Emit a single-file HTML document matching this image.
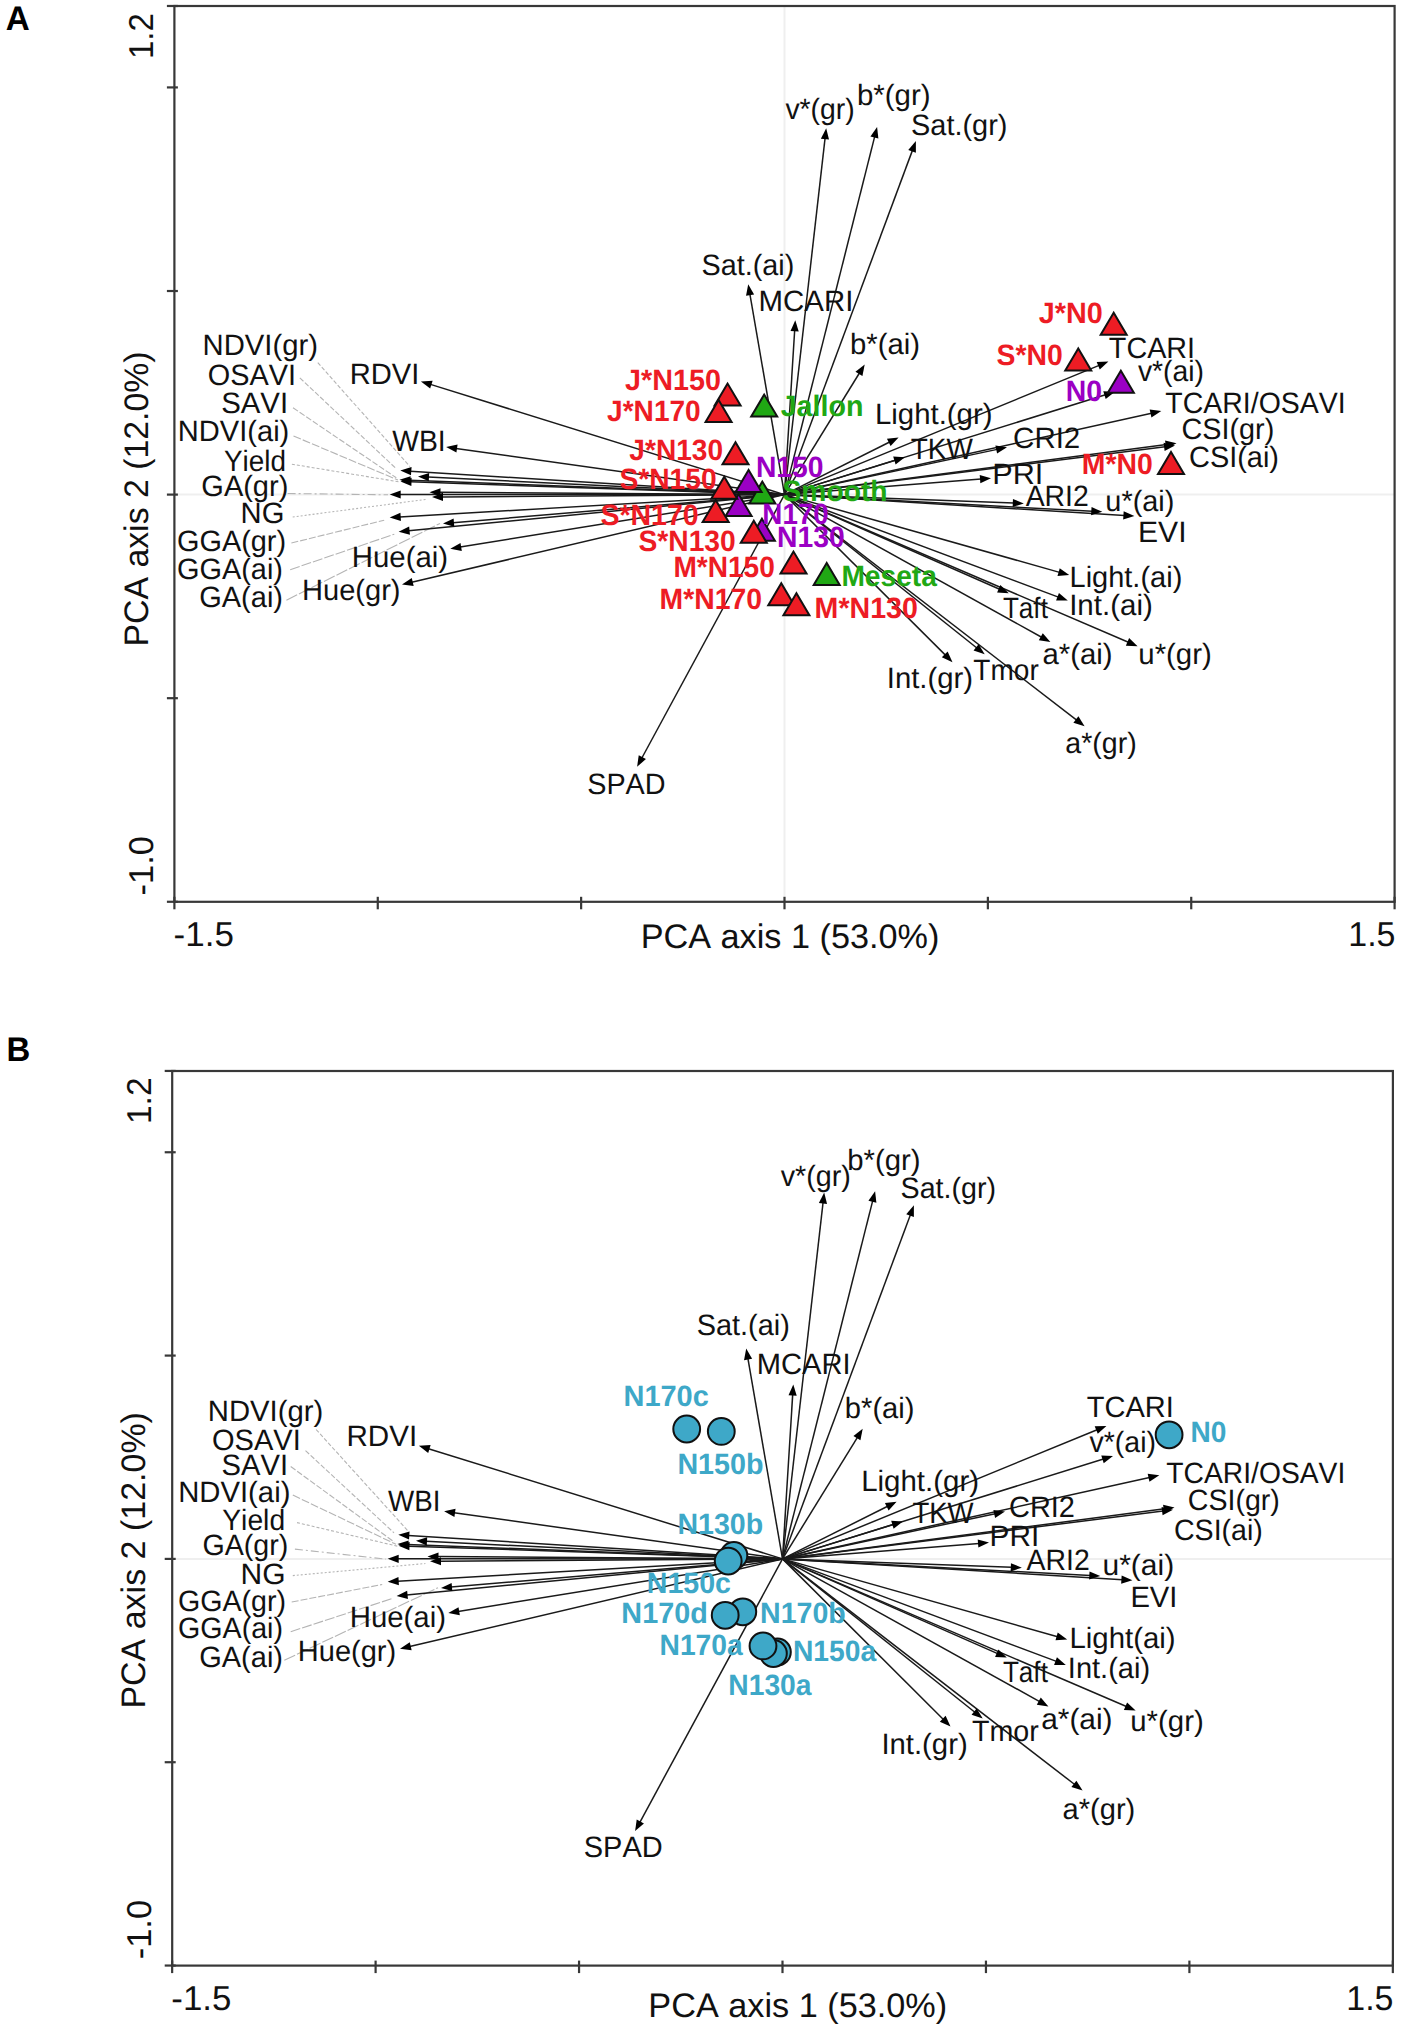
<!DOCTYPE html>
<html><head><meta charset="utf-8"><style>html,body{margin:0;padding:0;background:#fff;overflow:hidden}svg{display:block;font-kerning:none;text-rendering:geometricPrecision}</style></head><body>
<svg width="1417" height="2035" viewBox="0 0 1417 2035" font-family='"Liberation Sans", sans-serif' style="font-kerning:none">
<rect width="1417" height="2035" fill="#fff"/>
<text x="5.67" y="29.80" font-size="34" font-weight="bold" fill="#000" textLength="24.00" lengthAdjust="spacingAndGlyphs">A</text>
<g stroke="#efefef" stroke-width="2">
<line x1="174.4" y1="494.6" x2="1394.6" y2="494.6"/>
<line x1="784.5" y1="6.0" x2="784.5" y2="901.8"/>
</g>
<g stroke="#b4b4b4" stroke-width="1.1" fill="none">
<line x1="317.8" y1="362.6" x2="409.9" y2="466.5" stroke-dasharray="4,2"/>
<line x1="299.8" y1="377.8" x2="396.0" y2="468.5" stroke-dasharray="5,2"/>
<line x1="293.0" y1="407.8" x2="396.3" y2="477.8" stroke-dasharray="6,2"/>
<line x1="293.5" y1="436.0" x2="398.0" y2="480.0" stroke-dasharray="8,2"/>
<line x1="291.9" y1="464.2" x2="400.0" y2="482.0" stroke-dasharray="3,2"/>
<line x1="287.6" y1="493.5" x2="388.0" y2="494.8" stroke-dasharray="8,3,2,3"/>
<line x1="292.7" y1="517.0" x2="427.4" y2="499.2" stroke-dasharray="2,2"/>
<line x1="291.4" y1="543.0" x2="384.2" y2="520.2" stroke-dasharray="7,2"/>
<line x1="290.2" y1="569.7" x2="394.3" y2="534.2" stroke-dasharray="10,2"/>
<line x1="286.4" y1="600.2" x2="440.0" y2="523.4" stroke-dasharray="12,2"/>
</g>
<g stroke="#1a1a1a" stroke-width="1.5"><line x1="784.50" y1="494.60" x2="430.45" y2="384.37"/><line x1="784.50" y1="494.60" x2="456.00" y2="448.39"/><line x1="784.50" y1="494.60" x2="460.17" y2="547.10"/><line x1="784.50" y1="494.60" x2="411.73" y2="582.21"/><line x1="784.50" y1="494.60" x2="410.28" y2="471.13"/><line x1="784.50" y1="494.60" x2="409.49" y2="480.18"/><line x1="784.50" y1="494.60" x2="410.49" y2="481.84"/><line x1="784.50" y1="494.60" x2="427.99" y2="476.99"/><line x1="784.50" y1="494.60" x2="399.70" y2="494.50"/><line x1="784.50" y1="494.60" x2="439.50" y2="492.27"/><line x1="784.50" y1="494.60" x2="442.00" y2="496.93"/><line x1="784.50" y1="494.60" x2="399.68" y2="516.92"/><line x1="784.50" y1="494.60" x2="452.96" y2="522.75"/><line x1="784.50" y1="494.60" x2="408.55" y2="530.74"/><line x1="784.50" y1="494.60" x2="825.07" y2="138.14"/><line x1="784.50" y1="494.60" x2="874.66" y2="136.60"/><line x1="784.50" y1="494.60" x2="912.42" y2="150.37"/><line x1="784.50" y1="494.60" x2="749.90" y2="294.15"/><line x1="784.50" y1="494.60" x2="794.68" y2="330.28"/><line x1="784.50" y1="494.60" x2="859.45" y2="373.01"/><line x1="784.50" y1="494.60" x2="889.66" y2="441.98"/><line x1="784.50" y1="494.60" x2="895.35" y2="460.17"/><line x1="784.50" y1="494.60" x2="997.22" y2="449.38"/><line x1="784.50" y1="494.60" x2="981.03" y2="479.09"/><line x1="784.50" y1="494.60" x2="1099.15" y2="365.40"/><line x1="784.50" y1="494.60" x2="1105.45" y2="394.77"/><line x1="784.50" y1="494.60" x2="1151.54" y2="413.17"/><line x1="784.50" y1="494.60" x2="1166.58" y2="444.50"/><line x1="784.50" y1="494.60" x2="1165.08" y2="446.75"/><line x1="784.50" y1="494.60" x2="1013.81" y2="503.03"/><line x1="784.50" y1="494.60" x2="1092.31" y2="511.26"/><line x1="784.50" y1="494.60" x2="1124.42" y2="515.39"/><line x1="784.50" y1="494.60" x2="1059.58" y2="572.38"/><line x1="784.50" y1="494.60" x2="1058.43" y2="597.10"/><line x1="784.50" y1="494.60" x2="999.65" y2="589.27"/><line x1="784.50" y1="494.60" x2="1041.66" y2="637.25"/><line x1="784.50" y1="494.60" x2="1128.41" y2="642.25"/><line x1="784.50" y1="494.60" x2="945.42" y2="655.14"/><line x1="784.50" y1="494.60" x2="976.88" y2="647.97"/><line x1="784.50" y1="494.60" x2="1076.68" y2="720.19"/><line x1="784.50" y1="494.60" x2="641.86" y2="758.01"/></g>
<g fill="#000"><polygon points="420.90,381.40 432.62,380.76 430.18,388.58"/><polygon points="446.10,447.00 457.56,444.47 456.42,452.59"/><polygon points="450.30,548.70 460.50,542.89 461.81,550.99"/><polygon points="402.00,584.50 411.77,577.99 413.65,585.97"/><polygon points="400.30,470.50 411.54,467.10 411.02,475.28"/><polygon points="399.50,479.80 410.65,476.13 410.33,484.32"/><polygon points="400.50,481.50 411.63,477.78 411.35,485.97"/><polygon points="418.00,476.50 429.19,472.95 428.78,481.14"/><polygon points="389.70,494.50 400.70,490.40 400.70,498.60"/><polygon points="429.50,492.20 440.53,488.17 440.47,496.37"/><polygon points="432.00,497.00 442.97,492.83 443.03,501.03"/><polygon points="389.70,517.50 400.44,512.77 400.92,520.96"/><polygon points="443.00,523.60 453.61,518.58 454.31,526.75"/><polygon points="398.60,531.70 409.16,526.57 409.94,534.73"/><polygon points="826.20,128.20 829.03,139.59 820.88,138.67"/><polygon points="877.10,126.90 878.39,138.57 870.44,136.57"/><polygon points="915.90,141.00 915.91,152.74 908.23,149.88"/><polygon points="748.20,284.30 754.11,294.44 746.03,295.84"/><polygon points="795.30,320.30 798.71,331.53 790.53,331.03"/><polygon points="864.70,364.50 862.42,376.02 855.44,371.71"/><polygon points="898.60,437.50 890.60,446.09 886.93,438.76"/><polygon points="904.90,457.20 895.61,464.38 893.18,456.55"/><polygon points="1007.00,447.30 997.09,453.60 995.39,445.58"/><polygon points="991.00,478.30 980.36,483.25 979.71,475.08"/><polygon points="1108.40,361.60 1099.78,369.57 1096.67,361.99"/><polygon points="1115.00,391.80 1105.71,398.98 1103.28,391.15"/><polygon points="1161.30,411.00 1151.45,417.39 1149.67,409.38"/><polygon points="1176.50,443.20 1166.13,448.70 1165.06,440.56"/><polygon points="1175.00,445.50 1164.60,450.94 1163.57,442.80"/><polygon points="1023.80,503.40 1012.66,507.09 1012.96,498.90"/><polygon points="1102.30,511.80 1091.09,515.30 1091.54,507.11"/><polygon points="1134.40,516.00 1123.17,519.42 1123.67,511.24"/><polygon points="1069.20,575.10 1057.50,576.05 1059.73,568.16"/><polygon points="1067.80,600.60 1056.06,600.59 1058.93,592.91"/><polygon points="1008.80,593.30 997.08,592.62 1000.38,585.12"/><polygon points="1050.40,642.10 1038.79,640.35 1042.77,633.18"/><polygon points="1137.60,646.20 1125.87,645.63 1129.11,638.09"/><polygon points="952.50,662.20 941.82,657.33 947.61,651.53"/><polygon points="984.70,654.20 973.54,650.55 978.65,644.14"/><polygon points="1084.60,726.30 1073.39,722.82 1078.40,716.33"/><polygon points="637.10,766.80 638.73,755.17 645.94,759.08"/></g>
<polygon points="764.20,394.60 751.20,416.60 777.20,416.60" fill="#20a814" stroke="#111" stroke-width="2.0" stroke-linejoin="miter"/>
<polygon points="762.35,481.60 749.35,503.60 775.35,503.60" fill="#20a814" stroke="#111" stroke-width="2.0" stroke-linejoin="miter"/>
<polygon points="826.70,562.90 813.70,584.90 839.70,584.90" fill="#20a814" stroke="#111" stroke-width="2.0" stroke-linejoin="miter"/>
<polygon points="748.58,470.00 735.58,492.00 761.58,492.00" fill="#9b00c4" stroke="#111" stroke-width="2.0" stroke-linejoin="miter"/>
<polygon points="738.60,494.10 725.60,516.10 751.60,516.10" fill="#9b00c4" stroke="#111" stroke-width="2.0" stroke-linejoin="miter"/>
<polygon points="761.90,518.70 748.90,540.70 774.90,540.70" fill="#9b00c4" stroke="#111" stroke-width="2.0" stroke-linejoin="miter"/>
<polygon points="1120.85,370.70 1107.85,392.70 1133.85,392.70" fill="#9b00c4" stroke="#111" stroke-width="2.0" stroke-linejoin="miter"/>
<polygon points="727.60,383.60 714.60,405.60 740.60,405.60" fill="#ed1c24" stroke="#111" stroke-width="2.0" stroke-linejoin="miter"/>
<polygon points="718.58,399.90 705.58,421.90 731.58,421.90" fill="#ed1c24" stroke="#111" stroke-width="2.0" stroke-linejoin="miter"/>
<polygon points="735.50,442.20 722.50,464.20 748.50,464.20" fill="#ed1c24" stroke="#111" stroke-width="2.0" stroke-linejoin="miter"/>
<polygon points="724.25,476.70 711.25,498.70 737.25,498.70" fill="#ed1c24" stroke="#111" stroke-width="2.0" stroke-linejoin="miter"/>
<polygon points="715.67,500.00 702.67,522.00 728.67,522.00" fill="#ed1c24" stroke="#111" stroke-width="2.0" stroke-linejoin="miter"/>
<polygon points="753.78,520.80 740.78,542.80 766.78,542.80" fill="#ed1c24" stroke="#111" stroke-width="2.0" stroke-linejoin="miter"/>
<polygon points="793.52,551.60 780.52,573.60 806.52,573.60" fill="#ed1c24" stroke="#111" stroke-width="2.0" stroke-linejoin="miter"/>
<polygon points="781.27,583.30 768.27,605.30 794.27,605.30" fill="#ed1c24" stroke="#111" stroke-width="2.0" stroke-linejoin="miter"/>
<polygon points="796.42,593.20 783.42,615.20 809.42,615.20" fill="#ed1c24" stroke="#111" stroke-width="2.0" stroke-linejoin="miter"/>
<polygon points="1113.68,312.70 1100.68,334.70 1126.68,334.70" fill="#ed1c24" stroke="#111" stroke-width="2.0" stroke-linejoin="miter"/>
<polygon points="1078.25,348.50 1065.25,370.50 1091.25,370.50" fill="#ed1c24" stroke="#111" stroke-width="2.0" stroke-linejoin="miter"/>
<polygon points="1171.00,451.90 1158.00,473.90 1184.00,473.90" fill="#ed1c24" stroke="#111" stroke-width="2.0" stroke-linejoin="miter"/>
<g>
<text x="202.50" y="354.90" font-size="29.5" fill="#111" textLength="115.41" lengthAdjust="spacingAndGlyphs">NDVI(gr)</text>
<text x="207.83" y="384.60" font-size="29.5" fill="#111" textLength="88.23" lengthAdjust="spacingAndGlyphs">OSAVI</text>
<text x="221.17" y="413.20" font-size="29.5" fill="#111" textLength="66.95" lengthAdjust="spacingAndGlyphs">SAVI</text>
<text x="177.81" y="441.10" font-size="29.5" fill="#111" textLength="111.49" lengthAdjust="spacingAndGlyphs">NDVI(ai)</text>
<text x="223.99" y="470.80" font-size="29.5" fill="#111" textLength="62.11" lengthAdjust="spacingAndGlyphs">Yield</text>
<text x="201.34" y="495.70" font-size="29.5" fill="#111" textLength="86.96" lengthAdjust="spacingAndGlyphs">GA(gr)</text>
<text x="240.61" y="523.30" font-size="29.5" fill="#111" textLength="43.77" lengthAdjust="spacingAndGlyphs">NG</text>
<text x="177.05" y="550.80" font-size="29.5" fill="#111" textLength="109.04" lengthAdjust="spacingAndGlyphs">GGA(gr)</text>
<text x="177.05" y="579.40" font-size="29.5" fill="#111" textLength="105.94" lengthAdjust="spacingAndGlyphs">GGA(ai)</text>
<text x="199.24" y="606.90" font-size="29.5" fill="#111" textLength="83.76" lengthAdjust="spacingAndGlyphs">GA(ai)</text>
<text x="349.71" y="383.90" font-size="29.5" fill="#111" textLength="69.68" lengthAdjust="spacingAndGlyphs">RDVI</text>
<text x="392.18" y="450.80" font-size="29.5" fill="#111" textLength="53.54" lengthAdjust="spacingAndGlyphs">WBI</text>
<text x="351.79" y="566.70" font-size="29.5" fill="#111" textLength="96.33" lengthAdjust="spacingAndGlyphs">Hue(ai)</text>
<text x="302.02" y="599.50" font-size="29.5" fill="#111" textLength="98.49" lengthAdjust="spacingAndGlyphs">Hue(gr)</text>
<text x="785.40" y="118.90" font-size="29.5" fill="#111" textLength="69.36" lengthAdjust="spacingAndGlyphs">v*(gr)</text>
<text x="856.90" y="104.90" font-size="29.5" fill="#111" textLength="73.62" lengthAdjust="spacingAndGlyphs">b*(gr)</text>
<text x="911.09" y="135.20" font-size="29.5" fill="#111" textLength="96.30" lengthAdjust="spacingAndGlyphs">Sat.(gr)</text>
<text x="701.49" y="274.50" font-size="29.5" fill="#111" textLength="92.79" lengthAdjust="spacingAndGlyphs">Sat.(ai)</text>
<text x="758.59" y="311.00" font-size="29.5" fill="#111" textLength="94.83" lengthAdjust="spacingAndGlyphs">MCARI</text>
<text x="850.01" y="354.10" font-size="29.5" fill="#111" textLength="70.00" lengthAdjust="spacingAndGlyphs">b*(ai)</text>
<text x="874.99" y="423.70" font-size="29.5" fill="#111" textLength="117.53" lengthAdjust="spacingAndGlyphs">Light.(gr)</text>
<text x="910.67" y="458.70" font-size="29.5" fill="#111" textLength="62.12" lengthAdjust="spacingAndGlyphs">TKW</text>
<text x="1013.10" y="448.10" font-size="29.5" fill="#111" textLength="67.18" lengthAdjust="spacingAndGlyphs">CRI2</text>
<text x="992.29" y="483.90" font-size="29.5" fill="#111" textLength="51.04" lengthAdjust="spacingAndGlyphs">PRI</text>
<text x="1108.85" y="358.20" font-size="29.5" fill="#111" textLength="86.20" lengthAdjust="spacingAndGlyphs">TCARI</text>
<text x="1137.90" y="381.40" font-size="29.5" fill="#111" textLength="66.15" lengthAdjust="spacingAndGlyphs">v*(ai)</text>
<text x="1165.36" y="413.00" font-size="29.5" fill="#111" textLength="180.37" lengthAdjust="spacingAndGlyphs">TCARI/OSAVI</text>
<text x="1181.54" y="439.40" font-size="29.5" fill="#111" textLength="92.75" lengthAdjust="spacingAndGlyphs">CSI(gr)</text>
<text x="1189.03" y="466.70" font-size="29.5" fill="#111" textLength="89.96" lengthAdjust="spacingAndGlyphs">CSI(ai)</text>
<text x="1025.64" y="506.10" font-size="29.5" fill="#111" textLength="63.18" lengthAdjust="spacingAndGlyphs">ARI2</text>
<text x="1105.32" y="511.00" font-size="29.5" fill="#111" textLength="69.07" lengthAdjust="spacingAndGlyphs">u*(ai)</text>
<text x="1138.03" y="541.90" font-size="29.5" fill="#111" textLength="48.55" lengthAdjust="spacingAndGlyphs">EVI</text>
<text x="1069.52" y="587.20" font-size="29.5" fill="#111" textLength="112.78" lengthAdjust="spacingAndGlyphs">Light.(ai)</text>
<text x="1069.18" y="615.30" font-size="29.5" fill="#111" textLength="83.65" lengthAdjust="spacingAndGlyphs">Int.(ai)</text>
<text x="1002.91" y="618.00" font-size="29.5" fill="#111" textLength="44.98" lengthAdjust="spacingAndGlyphs">Taft</text>
<text x="1042.45" y="663.60" font-size="29.5" fill="#111" textLength="70.06" lengthAdjust="spacingAndGlyphs">a*(ai)</text>
<text x="1138.29" y="663.60" font-size="29.5" fill="#111" textLength="73.53" lengthAdjust="spacingAndGlyphs">u*(gr)</text>
<text x="886.79" y="687.70" font-size="29.5" fill="#111" textLength="86.32" lengthAdjust="spacingAndGlyphs">Int.(gr)</text>
<text x="973.37" y="679.70" font-size="29.5" fill="#111" textLength="65.39" lengthAdjust="spacingAndGlyphs">Tmor</text>
<text x="1065.29" y="753.40" font-size="29.5" fill="#111" textLength="71.38" lengthAdjust="spacingAndGlyphs">a*(gr)</text>
<text x="587.19" y="793.90" font-size="29.5" fill="#111" textLength="78.38" lengthAdjust="spacingAndGlyphs">SPAD</text>
</g>
<text x="625.07" y="389.60" font-size="29.5" font-weight="bold" fill="#ed1c24" textLength="95.81" lengthAdjust="spacingAndGlyphs">J*N150</text>
<text x="607.07" y="421.00" font-size="29.5" font-weight="bold" fill="#ed1c24" textLength="93.68" lengthAdjust="spacingAndGlyphs">J*N170</text>
<text x="629.37" y="459.50" font-size="29.5" font-weight="bold" fill="#ed1c24" textLength="93.68" lengthAdjust="spacingAndGlyphs">J*N130</text>
<text x="619.39" y="488.90" font-size="29.5" font-weight="bold" fill="#ed1c24" textLength="97.27" lengthAdjust="spacingAndGlyphs">S*N150</text>
<text x="600.38" y="524.70" font-size="29.5" font-weight="bold" fill="#ed1c24" textLength="98.29" lengthAdjust="spacingAndGlyphs">S*N170</text>
<text x="638.49" y="551.00" font-size="29.5" font-weight="bold" fill="#ed1c24" textLength="97.27" lengthAdjust="spacingAndGlyphs">S*N130</text>
<text x="673.42" y="577.00" font-size="29.5" font-weight="bold" fill="#ed1c24" textLength="101.43" lengthAdjust="spacingAndGlyphs">M*N150</text>
<text x="659.60" y="608.80" font-size="29.5" font-weight="bold" fill="#ed1c24" textLength="102.56" lengthAdjust="spacingAndGlyphs">M*N170</text>
<text x="814.59" y="618.30" font-size="29.5" font-weight="bold" fill="#ed1c24" textLength="103.29" lengthAdjust="spacingAndGlyphs">M*N130</text>
<text x="1038.86" y="323.10" font-size="29.5" font-weight="bold" fill="#ed1c24" textLength="64.02" lengthAdjust="spacingAndGlyphs">J*N0</text>
<text x="996.48" y="365.30" font-size="29.5" font-weight="bold" fill="#ed1c24" textLength="66.18" lengthAdjust="spacingAndGlyphs">S*N0</text>
<text x="1081.80" y="474.00" font-size="29.5" font-weight="bold" fill="#ed1c24" textLength="70.96" lengthAdjust="spacingAndGlyphs">M*N0</text>
<text x="1065.80" y="401.10" font-size="29.5" font-weight="bold" fill="#9b00c4" textLength="36.37" lengthAdjust="spacingAndGlyphs">N0</text>
<text x="755.91" y="476.60" font-size="29.5" font-weight="bold" fill="#9b00c4" textLength="67.65" lengthAdjust="spacingAndGlyphs">N150</text>
<text x="762.34" y="524.20" font-size="29.5" font-weight="bold" fill="#9b00c4" textLength="66.50" lengthAdjust="spacingAndGlyphs">N170</text>
<text x="777.11" y="546.50" font-size="29.5" font-weight="bold" fill="#9b00c4" textLength="67.65" lengthAdjust="spacingAndGlyphs">N130</text>
<text x="780.67" y="415.50" font-size="29.5" font-weight="bold" fill="#20a814" textLength="82.71" lengthAdjust="spacingAndGlyphs">Jallon</text>
<text x="782.39" y="501.30" font-size="29.5" font-weight="bold" fill="#20a814" textLength="105.27" lengthAdjust="spacingAndGlyphs">Smooth</text>
<text x="841.42" y="585.90" font-size="29.5" font-weight="bold" fill="#20a814" textLength="95.51" lengthAdjust="spacingAndGlyphs">Meseta</text>
<rect x="174.4" y="6.0" width="1220.1999999999998" height="895.8" fill="none" stroke="#383838" stroke-width="2.2"/>
<g stroke="#383838" stroke-width="2.2">
<line x1="166.90" y1="5.98" x2="177.90" y2="5.98"/>
<line x1="166.90" y1="87.42" x2="177.90" y2="87.42"/>
<line x1="166.90" y1="291.01" x2="177.90" y2="291.01"/>
<line x1="166.90" y1="494.60" x2="177.90" y2="494.60"/>
<line x1="166.90" y1="698.19" x2="177.90" y2="698.19"/>
<line x1="166.90" y1="901.78" x2="177.90" y2="901.78"/>
<line x1="174.40" y1="896.80" x2="174.40" y2="909.30"/>
<line x1="377.77" y1="896.80" x2="377.77" y2="909.30"/>
<line x1="581.13" y1="896.80" x2="581.13" y2="909.30"/>
<line x1="784.50" y1="896.80" x2="784.50" y2="909.30"/>
<line x1="987.87" y1="896.80" x2="987.87" y2="909.30"/>
<line x1="1191.23" y1="896.80" x2="1191.23" y2="909.30"/>
<line x1="1394.60" y1="896.80" x2="1394.60" y2="909.30"/>
</g>
<text x="173.54" y="946.10" font-size="34.5" fill="#111" textLength="60.33" lengthAdjust="spacingAndGlyphs">-1.5</text>
<text x="1348.31" y="946.10" font-size="34.5" fill="#111" textLength="47.21" lengthAdjust="spacingAndGlyphs">1.5</text>
<text x="640.69" y="948.40" font-size="34" fill="#111" textLength="298.63" lengthAdjust="spacingAndGlyphs">PCA axis 1 (53.0%)</text>
<g transform="translate(153.00,56.50) rotate(-90)"><text x="-2.51" y="0.00" font-size="34.5" fill="#111" textLength="45.87" lengthAdjust="spacingAndGlyphs">1.2</text></g>
<g transform="translate(153.30,894.00) rotate(-90)"><text x="-1.53" y="0.00" font-size="34.5" fill="#111">-1.0</text></g>
<g transform="translate(148.10,643.80) rotate(-90)"><text x="-2.77" y="0.00" font-size="34" fill="#111" textLength="295.17" lengthAdjust="spacingAndGlyphs">PCA axis 2 (12.0%)</text></g>
<text x="6.60" y="1061.10" font-size="34" font-weight="bold" fill="#000" textLength="23.80" lengthAdjust="spacingAndGlyphs">B</text>
<g stroke="#efefef" stroke-width="2">
<line x1="172.2" y1="1558.9" x2="1392.9" y2="1558.9"/>
</g>
<g stroke="#b4b4b4" stroke-width="1.1" fill="none">
<line x1="316.1" y1="1429.5" x2="407.9" y2="1530.8" stroke-dasharray="4,2"/>
<line x1="305.5" y1="1450.6" x2="394.0" y2="1532.8" stroke-dasharray="5,2"/>
<line x1="290.7" y1="1466.5" x2="394.3" y2="1542.1" stroke-dasharray="6,2"/>
<line x1="292.8" y1="1495.1" x2="396.0" y2="1544.3" stroke-dasharray="8,2"/>
<line x1="297.0" y1="1522.6" x2="398.0" y2="1546.3" stroke-dasharray="3,2"/>
<line x1="294.9" y1="1549.1" x2="386.0" y2="1559.1" stroke-dasharray="8,3,2,3"/>
<line x1="292.8" y1="1575.6" x2="425.4" y2="1563.5" stroke-dasharray="2,2"/>
<line x1="291.7" y1="1602.0" x2="382.2" y2="1584.5" stroke-dasharray="7,2"/>
<line x1="290.7" y1="1631.7" x2="392.3" y2="1598.5" stroke-dasharray="10,2"/>
<line x1="284.3" y1="1660.3" x2="438.0" y2="1587.6999999999998" stroke-dasharray="12,2"/>
</g>
<g stroke="#1a1a1a" stroke-width="1.5"><line x1="782.50" y1="1558.90" x2="428.45" y2="1448.67"/><line x1="782.50" y1="1558.90" x2="454.00" y2="1512.69"/><line x1="782.50" y1="1558.90" x2="458.17" y2="1611.40"/><line x1="782.50" y1="1558.90" x2="409.73" y2="1646.51"/><line x1="782.50" y1="1558.90" x2="408.28" y2="1535.43"/><line x1="782.50" y1="1558.90" x2="407.49" y2="1544.48"/><line x1="782.50" y1="1558.90" x2="408.49" y2="1546.14"/><line x1="782.50" y1="1558.90" x2="425.99" y2="1541.29"/><line x1="782.50" y1="1558.90" x2="397.70" y2="1558.80"/><line x1="782.50" y1="1558.90" x2="437.50" y2="1556.57"/><line x1="782.50" y1="1558.90" x2="440.00" y2="1561.23"/><line x1="782.50" y1="1558.90" x2="397.68" y2="1581.22"/><line x1="782.50" y1="1558.90" x2="450.96" y2="1587.05"/><line x1="782.50" y1="1558.90" x2="406.55" y2="1595.04"/><line x1="782.50" y1="1558.90" x2="823.07" y2="1202.44"/><line x1="782.50" y1="1558.90" x2="872.66" y2="1200.90"/><line x1="782.50" y1="1558.90" x2="910.42" y2="1214.67"/><line x1="782.50" y1="1558.90" x2="747.90" y2="1358.45"/><line x1="782.50" y1="1558.90" x2="792.68" y2="1394.58"/><line x1="782.50" y1="1558.90" x2="857.45" y2="1437.31"/><line x1="782.50" y1="1558.90" x2="887.66" y2="1506.28"/><line x1="782.50" y1="1558.90" x2="893.35" y2="1524.47"/><line x1="782.50" y1="1558.90" x2="995.22" y2="1513.68"/><line x1="782.50" y1="1558.90" x2="979.03" y2="1543.39"/><line x1="782.50" y1="1558.90" x2="1097.15" y2="1429.70"/><line x1="782.50" y1="1558.90" x2="1103.45" y2="1459.07"/><line x1="782.50" y1="1558.90" x2="1149.54" y2="1477.47"/><line x1="782.50" y1="1558.90" x2="1164.58" y2="1508.80"/><line x1="782.50" y1="1558.90" x2="1163.08" y2="1511.05"/><line x1="782.50" y1="1558.90" x2="1011.81" y2="1567.33"/><line x1="782.50" y1="1558.90" x2="1090.31" y2="1575.56"/><line x1="782.50" y1="1558.90" x2="1122.42" y2="1579.69"/><line x1="782.50" y1="1558.90" x2="1057.58" y2="1636.68"/><line x1="782.50" y1="1558.90" x2="1056.43" y2="1661.40"/><line x1="782.50" y1="1558.90" x2="997.65" y2="1653.57"/><line x1="782.50" y1="1558.90" x2="1039.66" y2="1701.55"/><line x1="782.50" y1="1558.90" x2="1126.41" y2="1706.55"/><line x1="782.50" y1="1558.90" x2="943.42" y2="1719.44"/><line x1="782.50" y1="1558.90" x2="974.88" y2="1712.27"/><line x1="782.50" y1="1558.90" x2="1074.68" y2="1784.49"/><line x1="782.50" y1="1558.90" x2="639.86" y2="1822.31"/></g>
<g fill="#000"><polygon points="418.90,1445.70 430.62,1445.06 428.18,1452.88"/><polygon points="444.10,1511.30 455.56,1508.77 454.42,1516.89"/><polygon points="448.30,1613.00 458.50,1607.19 459.81,1615.29"/><polygon points="400.00,1648.80 409.77,1642.29 411.65,1650.27"/><polygon points="398.30,1534.80 409.54,1531.40 409.02,1539.58"/><polygon points="397.50,1544.10 408.65,1540.43 408.33,1548.62"/><polygon points="398.50,1545.80 409.63,1542.08 409.35,1550.27"/><polygon points="416.00,1540.80 427.19,1537.25 426.78,1545.44"/><polygon points="387.70,1558.80 398.70,1554.70 398.70,1562.90"/><polygon points="427.50,1556.50 438.53,1552.47 438.47,1560.67"/><polygon points="430.00,1561.30 440.97,1557.13 441.03,1565.33"/><polygon points="387.70,1581.80 398.44,1577.07 398.92,1585.26"/><polygon points="441.00,1587.90 451.61,1582.88 452.31,1591.05"/><polygon points="396.60,1596.00 407.16,1590.87 407.94,1599.03"/><polygon points="824.20,1192.50 827.03,1203.89 818.88,1202.97"/><polygon points="875.10,1191.20 876.39,1202.87 868.44,1200.87"/><polygon points="913.90,1205.30 913.91,1217.04 906.23,1214.18"/><polygon points="746.20,1348.60 752.11,1358.74 744.03,1360.14"/><polygon points="793.30,1384.60 796.71,1395.83 788.53,1395.33"/><polygon points="862.70,1428.80 860.42,1440.32 853.44,1436.01"/><polygon points="896.60,1501.80 888.60,1510.39 884.93,1503.06"/><polygon points="902.90,1521.50 893.61,1528.68 891.18,1520.85"/><polygon points="1005.00,1511.60 995.09,1517.90 993.39,1509.88"/><polygon points="989.00,1542.60 978.36,1547.55 977.71,1539.38"/><polygon points="1106.40,1425.90 1097.78,1433.87 1094.67,1426.29"/><polygon points="1113.00,1456.10 1103.71,1463.28 1101.28,1455.45"/><polygon points="1159.30,1475.30 1149.45,1481.69 1147.67,1473.68"/><polygon points="1174.50,1507.50 1164.13,1513.00 1163.06,1504.86"/><polygon points="1173.00,1509.80 1162.60,1515.24 1161.57,1507.10"/><polygon points="1021.80,1567.70 1010.66,1571.39 1010.96,1563.20"/><polygon points="1100.30,1576.10 1089.09,1579.60 1089.54,1571.41"/><polygon points="1132.40,1580.30 1121.17,1583.72 1121.67,1575.54"/><polygon points="1067.20,1639.40 1055.50,1640.35 1057.73,1632.46"/><polygon points="1065.80,1664.90 1054.06,1664.89 1056.93,1657.21"/><polygon points="1006.80,1657.60 995.08,1656.92 998.38,1649.42"/><polygon points="1048.40,1706.40 1036.79,1704.65 1040.77,1697.48"/><polygon points="1135.60,1710.50 1123.87,1709.93 1127.11,1702.39"/><polygon points="950.50,1726.50 939.82,1721.63 945.61,1715.83"/><polygon points="982.70,1718.50 971.54,1714.85 976.65,1708.44"/><polygon points="1082.60,1790.60 1071.39,1787.12 1076.40,1780.63"/><polygon points="635.10,1831.10 636.73,1819.47 643.94,1823.38"/></g>
<circle cx="686.70" cy="1429.00" r="13.40" fill="#3ea8c8" stroke="#111" stroke-width="2.0"/>
<circle cx="721.30" cy="1431.40" r="13.40" fill="#3ea8c8" stroke="#111" stroke-width="2.0"/>
<circle cx="733.90" cy="1555.50" r="13.40" fill="#3ea8c8" stroke="#111" stroke-width="2.0"/>
<circle cx="728.20" cy="1561.10" r="13.40" fill="#3ea8c8" stroke="#111" stroke-width="2.0"/>
<circle cx="742.80" cy="1611.80" r="13.40" fill="#3ea8c8" stroke="#111" stroke-width="2.0"/>
<circle cx="725.20" cy="1615.30" r="13.40" fill="#3ea8c8" stroke="#111" stroke-width="2.0"/>
<circle cx="777.40" cy="1652.00" r="13.40" fill="#3ea8c8" stroke="#111" stroke-width="2.0"/>
<circle cx="773.40" cy="1653.50" r="13.40" fill="#3ea8c8" stroke="#111" stroke-width="2.0"/>
<circle cx="763.00" cy="1645.90" r="13.40" fill="#3ea8c8" stroke="#111" stroke-width="2.0"/>
<circle cx="1169.10" cy="1434.80" r="13.40" fill="#3ea8c8" stroke="#111" stroke-width="2.0"/>
<g>
<text x="207.80" y="1421.00" font-size="29.5" fill="#111" textLength="115.41" lengthAdjust="spacingAndGlyphs">NDVI(gr)</text>
<text x="212.02" y="1449.60" font-size="29.5" fill="#111" textLength="88.75" lengthAdjust="spacingAndGlyphs">OSAVI</text>
<text x="221.57" y="1475.00" font-size="29.5" fill="#111" textLength="66.52" lengthAdjust="spacingAndGlyphs">SAVI</text>
<text x="178.20" y="1501.50" font-size="29.5" fill="#111" textLength="112.22" lengthAdjust="spacingAndGlyphs">NDVI(ai)</text>
<text x="222.28" y="1530.00" font-size="29.5" fill="#111" textLength="62.84" lengthAdjust="spacingAndGlyphs">Yield</text>
<text x="202.46" y="1555.40" font-size="29.5" fill="#111" textLength="85.81" lengthAdjust="spacingAndGlyphs">GA(gr)</text>
<text x="240.54" y="1584.00" font-size="29.5" fill="#111" textLength="45.00" lengthAdjust="spacingAndGlyphs">NG</text>
<text x="178.06" y="1610.50" font-size="29.5" fill="#111" textLength="108.01" lengthAdjust="spacingAndGlyphs">GGA(gr)</text>
<text x="178.06" y="1638.00" font-size="29.5" fill="#111" textLength="104.91" lengthAdjust="spacingAndGlyphs">GGA(ai)</text>
<text x="199.24" y="1666.60" font-size="29.5" fill="#111" textLength="83.76" lengthAdjust="spacingAndGlyphs">GA(ai)</text>
<text x="346.47" y="1446.40" font-size="29.5" fill="#111" textLength="70.76" lengthAdjust="spacingAndGlyphs">RDVI</text>
<text x="387.98" y="1511.00" font-size="29.5" fill="#111" textLength="52.38" lengthAdjust="spacingAndGlyphs">WBI</text>
<text x="349.69" y="1627.40" font-size="29.5" fill="#111" textLength="96.33" lengthAdjust="spacingAndGlyphs">Hue(ai)</text>
<text x="297.82" y="1661.30" font-size="29.5" fill="#111" textLength="98.38" lengthAdjust="spacingAndGlyphs">Hue(gr)</text>
<text x="780.70" y="1186.40" font-size="29.5" fill="#111" textLength="70.18" lengthAdjust="spacingAndGlyphs">v*(gr)</text>
<text x="847.21" y="1169.60" font-size="29.5" fill="#111" textLength="73.31" lengthAdjust="spacingAndGlyphs">b*(gr)</text>
<text x="900.60" y="1198.40" font-size="29.5" fill="#111" textLength="95.48" lengthAdjust="spacingAndGlyphs">Sat.(gr)</text>
<text x="696.69" y="1335.10" font-size="29.5" fill="#111" textLength="93.10" lengthAdjust="spacingAndGlyphs">Sat.(ai)</text>
<text x="756.81" y="1373.50" font-size="29.5" fill="#111" textLength="93.88" lengthAdjust="spacingAndGlyphs">MCARI</text>
<text x="844.82" y="1417.90" font-size="29.5" fill="#111" textLength="69.69" lengthAdjust="spacingAndGlyphs">b*(ai)</text>
<text x="1086.85" y="1417.10" font-size="29.5" fill="#111" textLength="87.03" lengthAdjust="spacingAndGlyphs">TCARI</text>
<text x="1089.50" y="1452.00" font-size="29.5" fill="#111" textLength="66.46" lengthAdjust="spacingAndGlyphs">v*(ai)</text>
<text x="1166.27" y="1482.70" font-size="29.5" fill="#111" textLength="179.04" lengthAdjust="spacingAndGlyphs">TCARI/OSAVI</text>
<text x="1187.75" y="1510.20" font-size="29.5" fill="#111" textLength="92.12" lengthAdjust="spacingAndGlyphs">CSI(gr)</text>
<text x="1173.95" y="1539.90" font-size="29.5" fill="#111" textLength="88.92" lengthAdjust="spacingAndGlyphs">CSI(ai)</text>
<text x="861.18" y="1490.80" font-size="29.5" fill="#111" textLength="117.84" lengthAdjust="spacingAndGlyphs">Light.(gr)</text>
<text x="912.38" y="1522.90" font-size="29.5" fill="#111" textLength="61.21" lengthAdjust="spacingAndGlyphs">TKW</text>
<text x="1009.03" y="1516.70" font-size="29.5" fill="#111" textLength="65.92" lengthAdjust="spacingAndGlyphs">CRI2</text>
<text x="989.55" y="1546.30" font-size="29.5" fill="#111" textLength="49.70" lengthAdjust="spacingAndGlyphs">PRI</text>
<text x="1026.54" y="1569.80" font-size="29.5" fill="#111" textLength="63.18" lengthAdjust="spacingAndGlyphs">ARI2</text>
<text x="1102.45" y="1574.70" font-size="29.5" fill="#111" textLength="71.71" lengthAdjust="spacingAndGlyphs">u*(ai)</text>
<text x="1130.40" y="1606.80" font-size="29.5" fill="#111" textLength="47.09" lengthAdjust="spacingAndGlyphs">EVI</text>
<text x="1069.49" y="1648.30" font-size="29.5" fill="#111" textLength="106.13" lengthAdjust="spacingAndGlyphs">Light(ai)</text>
<text x="1067.82" y="1677.80" font-size="29.5" fill="#111" textLength="82.28" lengthAdjust="spacingAndGlyphs">Int.(ai)</text>
<text x="1002.91" y="1681.80" font-size="29.5" fill="#111" textLength="44.98" lengthAdjust="spacingAndGlyphs">Taft</text>
<text x="1041.13" y="1728.70" font-size="29.5" fill="#111" textLength="71.42" lengthAdjust="spacingAndGlyphs">a*(ai)</text>
<text x="1130.29" y="1731.40" font-size="29.5" fill="#111" textLength="73.43" lengthAdjust="spacingAndGlyphs">u*(gr)</text>
<text x="881.39" y="1754.20" font-size="29.5" fill="#111" textLength="86.32" lengthAdjust="spacingAndGlyphs">Int.(gr)</text>
<text x="971.96" y="1740.80" font-size="29.5" fill="#111" textLength="66.82" lengthAdjust="spacingAndGlyphs">Tmor</text>
<text x="1062.56" y="1818.50" font-size="29.5" fill="#111" textLength="72.74" lengthAdjust="spacingAndGlyphs">a*(gr)</text>
<text x="583.78" y="1857.30" font-size="29.5" fill="#111" textLength="78.90" lengthAdjust="spacingAndGlyphs">SPAD</text>
</g>
<text x="623.46" y="1406.40" font-size="29.5" font-weight="bold" fill="#3ea8c8" textLength="85.39" lengthAdjust="spacingAndGlyphs">N170c</text>
<text x="677.38" y="1474.10" font-size="29.5" font-weight="bold" fill="#3ea8c8" textLength="86.10" lengthAdjust="spacingAndGlyphs">N150b</text>
<text x="677.49" y="1534.10" font-size="29.5" font-weight="bold" fill="#3ea8c8" textLength="85.68" lengthAdjust="spacingAndGlyphs">N130b</text>
<text x="646.79" y="1593.40" font-size="29.5" font-weight="bold" fill="#3ea8c8" textLength="84.25" lengthAdjust="spacingAndGlyphs">N150c</text>
<text x="621.37" y="1623.00" font-size="29.5" font-weight="bold" fill="#3ea8c8" textLength="86.42" lengthAdjust="spacingAndGlyphs">N170d</text>
<text x="760.09" y="1623.00" font-size="29.5" font-weight="bold" fill="#3ea8c8" textLength="85.68" lengthAdjust="spacingAndGlyphs">N170b</text>
<text x="659.51" y="1654.80" font-size="29.5" font-weight="bold" fill="#3ea8c8" textLength="83.21" lengthAdjust="spacingAndGlyphs">N170a</text>
<text x="792.91" y="1661.10" font-size="29.5" font-weight="bold" fill="#3ea8c8" textLength="83.21" lengthAdjust="spacingAndGlyphs">N150a</text>
<text x="728.31" y="1695.00" font-size="29.5" font-weight="bold" fill="#3ea8c8" textLength="83.21" lengthAdjust="spacingAndGlyphs">N130a</text>
<text x="1190.42" y="1442.20" font-size="29.5" font-weight="bold" fill="#3ea8c8" textLength="35.93" lengthAdjust="spacingAndGlyphs">N0</text>
<rect x="172.2" y="1071.0" width="1220.7" height="894.5999999999999" fill="none" stroke="#383838" stroke-width="2.2"/>
<g stroke="#383838" stroke-width="2.2">
<line x1="164.70" y1="1070.94" x2="175.70" y2="1070.94"/>
<line x1="164.70" y1="1152.26" x2="175.70" y2="1152.26"/>
<line x1="164.70" y1="1355.58" x2="175.70" y2="1355.58"/>
<line x1="164.70" y1="1558.90" x2="175.70" y2="1558.90"/>
<line x1="164.70" y1="1762.22" x2="175.70" y2="1762.22"/>
<line x1="164.70" y1="1965.54" x2="175.70" y2="1965.54"/>
<line x1="172.15" y1="1960.60" x2="172.15" y2="1973.10"/>
<line x1="375.60" y1="1960.60" x2="375.60" y2="1973.10"/>
<line x1="579.05" y1="1960.60" x2="579.05" y2="1973.10"/>
<line x1="782.50" y1="1960.60" x2="782.50" y2="1973.10"/>
<line x1="985.95" y1="1960.60" x2="985.95" y2="1973.10"/>
<line x1="1189.40" y1="1960.60" x2="1189.40" y2="1973.10"/>
<line x1="1392.85" y1="1960.60" x2="1392.85" y2="1973.10"/>
</g>
<text x="171.35" y="2009.90" font-size="34.5" fill="#111" textLength="60.12" lengthAdjust="spacingAndGlyphs">-1.5</text>
<text x="1346.31" y="2010.30" font-size="34.5" fill="#111" textLength="47.21" lengthAdjust="spacingAndGlyphs">1.5</text>
<text x="648.39" y="2016.70" font-size="34" fill="#111" textLength="298.83" lengthAdjust="spacingAndGlyphs">PCA axis 1 (53.0%)</text>
<g transform="translate(150.70,1121.50) rotate(-90)"><text x="-2.56" y="0.00" font-size="34.5" fill="#111" textLength="46.64" lengthAdjust="spacingAndGlyphs">1.2</text></g>
<g transform="translate(151.30,1957.80) rotate(-90)"><text x="-1.53" y="0.00" font-size="34.5" fill="#111">-1.0</text></g>
<g transform="translate(145.10,1705.80) rotate(-90)"><text x="-2.79" y="0.00" font-size="34" fill="#111" textLength="296.49" lengthAdjust="spacingAndGlyphs">PCA axis 2 (12.0%)</text></g>
</svg>
</body></html>
